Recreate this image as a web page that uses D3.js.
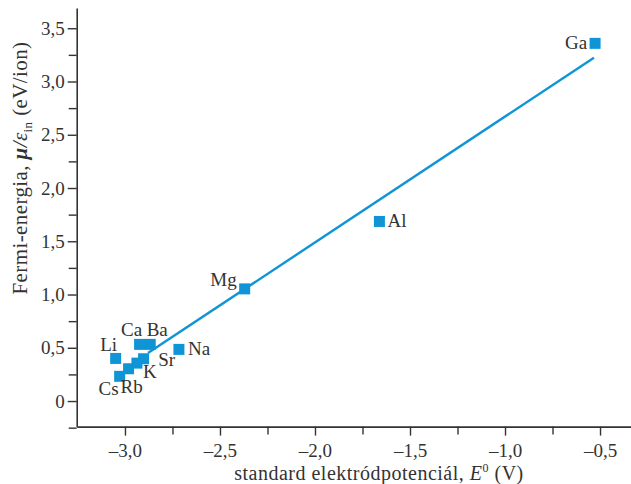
<!DOCTYPE html>
<html>
<head>
<meta charset="utf-8">
<script src="https://cdn.jsdelivr.net/npm/d3@7/dist/d3.min.js"></script>
<style>
  html, body { margin: 0; padding: 0; background: #fff; }
  svg { display: block; }
  text { font-family: "Liberation Serif", "DejaVu Serif", serif; fill: #333; }
</style>
</head>
<body>
<svg id="chart" width="631" height="484"></svg>
<script>
// ---- data ----
const elements = ["Ga", "Al", "Mg", "Li", "Ca", "Ba", "Na", "Sr", "K", "Rb", "Cs"];
const potential = [-0.526, -1.661, -2.370, -3.049, -2.923, -2.867, -2.716, -2.902, -2.937, -2.981, -3.028];
const fermiEnergy = [3.358, 1.686, 1.053, 0.40, 0.532, 0.532, 0.485, 0.397, 0.356, 0.303, 0.232];
const fitLineX = [-2.879, -0.532];
const fitLineY = [0.45, 3.224];
const xTicks = [-3.0, -2.5, -2.0, -1.5, -1.0, -0.5];
const xMinorTicks = [-2.75, -2.25, -1.75, -1.25, -0.75];
const yTicks = [0, 0.5, 1.0, 1.5, 2.0, 2.5, 3.0, 3.5];
const yMinorTicks = [-0.25, 0.25, 0.75, 1.25, 1.75, 2.25, 2.75, 3.25];

// label placement (layout only)
const labelPlacement = {
  Ga: {dx: -8, dy: 6, anchor: "end"},
  Al: {dx: 8, dy: 6, anchor: "start"},
  Mg: {dx: -8, dy: -3, anchor: "end"},
  Li: {dx: -7, dy: -7, anchor: "middle"},
  Ca: {dx: -8, dy: -8, anchor: "middle"},
  Ba: {dx: 7, dy: -8, anchor: "middle"},
  Na: {dx: 9, dy: 6, anchor: "start"},
  Sr: {dx: 23, dy: 7, anchor: "middle"},
  K:  {dx: 13, dy: 15, anchor: "middle"},
  Rb: {dx: 3, dy: 24, anchor: "middle"},
  Cs: {dx: -11, dy: 19, anchor: "middle"}
};

const blue = "#0f95d5";
const axisColor = "#333";
const svg = d3.select("#chart");

const x = d3.scaleLinear().domain([-3.254, -0.337]).range([76.7, 631]);
const y = d3.scaleLinear().domain([-0.24, 3.69]).range([426.6, 8]);

const fmt = v => v === 0 ? "0" : d3.format(".1f")(Math.abs(v)).replace(".", ",");
const xfmt = v => "\u2013" + fmt(v);

// x axis
const xAxis = svg.append("g").attr("transform", `translate(0,${y.range()[0]})`);
xAxis.call(d3.axisBottom(x).tickValues(xTicks).tickFormat(xfmt).tickSize(9).tickPadding(8).tickSizeOuter(0));
xAxis.append("g").call(d3.axisBottom(x).tickValues(xMinorTicks).tickFormat("").tickSize(8).tickSizeOuter(0))
  .select(".domain").remove();
// y axis
const yAxis = svg.append("g").attr("transform", `translate(${x.range()[0]},0)`);
yAxis.call(d3.axisLeft(y).tickValues(yTicks).tickFormat(fmt).tickSize(9).tickPadding(3).tickSizeOuter(0));
yAxis.append("g").call(d3.axisLeft(y).tickValues(yMinorTicks).tickFormat("").tickSize(8).tickSizeOuter(0))
  .select(".domain").remove();

svg.selectAll(".domain").attr("stroke", axisColor).attr("stroke-width", 1.6);
svg.selectAll(".tick line").attr("stroke", axisColor).attr("stroke-width", 1.4);
svg.selectAll(".tick text").attr("font-size", 19).attr("fill", "#333")
  .style("font-family", '"Liberation Serif", serif');

// axis titles
const xt = svg.append("text").attr("x", 379).attr("y", 480).attr("text-anchor", "middle")
  .attr("font-size", 20).style("letter-spacing", "0.5px");
xt.append("tspan").text("standard elektródpotenciál, ");
xt.append("tspan").attr("font-style", "italic").text("E");
xt.append("tspan").attr("font-size", 12).attr("dy", -8).text("0");
xt.append("tspan").attr("dy", 8).text(" (V)");

const yt = svg.append("text").attr("transform", "translate(27,168) rotate(-90)")
  .attr("text-anchor", "middle").attr("font-size", 21).style("letter-spacing", "0.4px");
yt.append("tspan").text("Fermi-energia, ");
yt.append("tspan").attr("font-style", "italic").attr("font-weight", "bold").text("μ");
yt.append("tspan").attr("font-style", "italic").text("/ε");
yt.append("tspan").attr("font-size", 13).attr("dy", 5).text("in");
yt.append("tspan").attr("dy", -5).text(" (eV/ion)");

// fit line
const lineData = fitLineX.map((v, i) => [v, fitLineY[i]]);
svg.append("path").datum(lineData)
  .attr("d", d3.line().x(d => x(d[0])).y(d => y(d[1])))
  .attr("fill", "none").attr("stroke", blue).attr("stroke-width", 2.4);

// points
const pts = elements.map((e, i) => ({name: e, px: potential[i], py: fermiEnergy[i]}));
const s = 11;
svg.selectAll("rect.pt").data(pts).enter().append("rect").attr("class", "pt")
  .attr("x", d => x(d.px) - s / 2).attr("y", d => y(d.py) - s / 2)
  .attr("width", s).attr("height", s).attr("fill", blue);

svg.selectAll("text.lbl").data(pts).enter().append("text").attr("class", "lbl")
  .attr("x", d => x(d.px) + labelPlacement[d.name].dx)
  .attr("y", d => y(d.py) + labelPlacement[d.name].dy)
  .attr("text-anchor", d => labelPlacement[d.name].anchor)
  .attr("font-size", 19)
  .text(d => d.name);
</script>
</body>
</html>
